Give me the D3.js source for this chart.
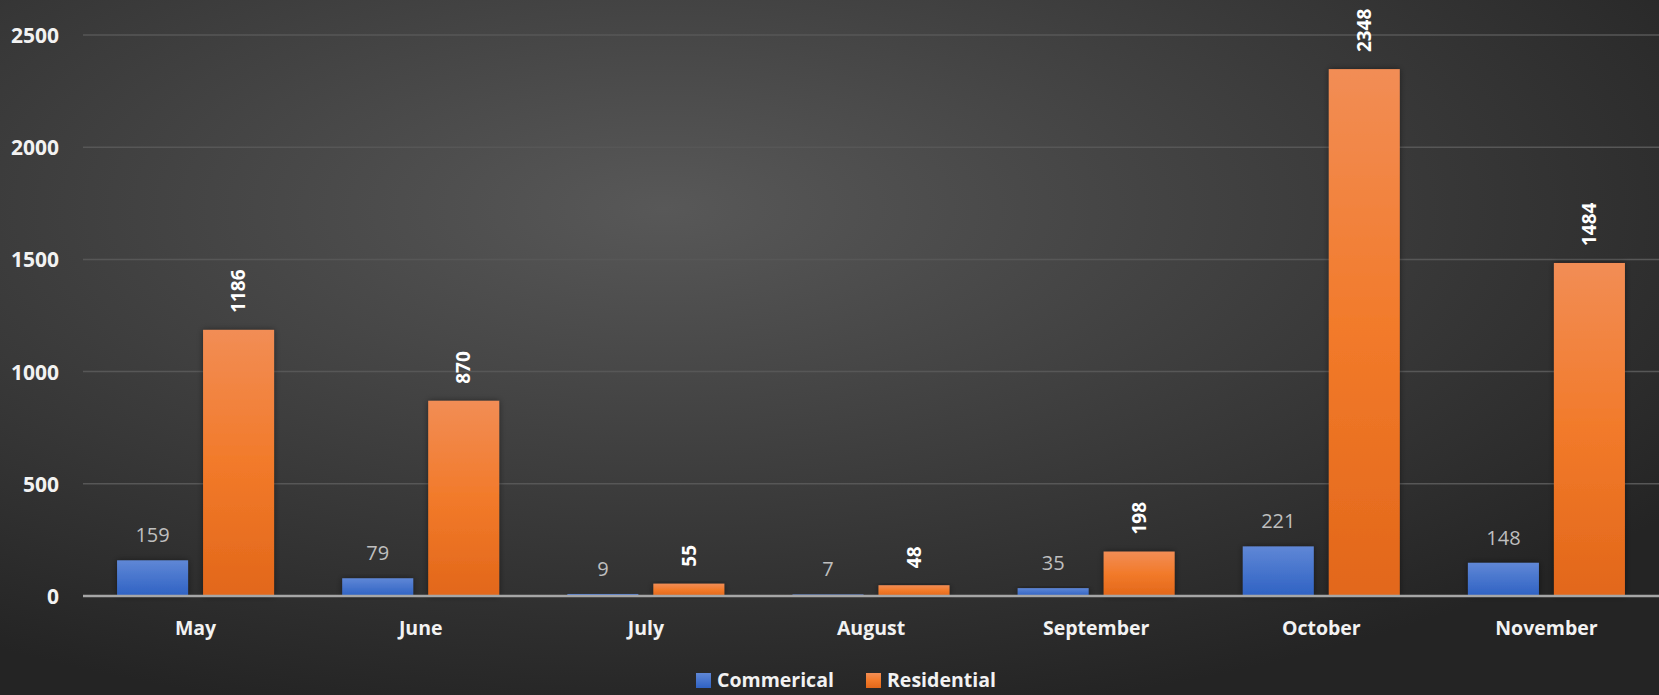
<!doctype html>
<html>
<head>
<meta charset="UTF-8">
<title>Commerical vs Residential</title>
<script src="https://d3js.org/d3.v7.min.js"></script>
<style>
  html, body { margin: 0; padding: 0; background: #2a2a2a; }
  svg { display: block; }
  text { font-family: "Open Sans", "Noto Sans", sans-serif; }
</style>
</head>
<body>
<svg id="chart" width="1659" height="695"></svg>
<script>
// data
var months = ["May", "June", "July", "August", "September", "October", "November"];
var commerical = [159, 79, 9, 7, 35, 221, 148];
var residential = [1186, 870, 55, 48, 198, 2348, 1484];
var yTicks = [0, 500, 1000, 1500, 2000, 2500];
var seriesNames = ["Commerical", "Residential"];

var W = 1659, H = 695;
var m = {left: 83, right: 0, top: 35, bottom: 99};

var svg = d3.select("#chart");
var defs = svg.append("defs");

// background
var bg = defs.append("radialGradient").attr("id", "bg")
  .attr("cx", "40%").attr("cy", "30%").attr("r", "75%");
bg.append("stop").attr("offset", "0%").attr("stop-color", "#585858");
bg.append("stop").attr("offset", "100%").attr("stop-color", "#242424");
svg.append("rect").attr("width", W).attr("height", H).attr("fill", "url(#bg)");

// bar gradients
var gBlue = defs.append("linearGradient").attr("id", "gBlue")
  .attr("x1", 0).attr("y1", 0).attr("x2", 0).attr("y2", 1);
gBlue.append("stop").attr("offset", "0%").attr("stop-color", "#5f87d6");
gBlue.append("stop").attr("offset", "100%").attr("stop-color", "#2f62c3");
var gOrange = defs.append("linearGradient").attr("id", "gOrange")
  .attr("x1", 0).attr("y1", 0).attr("x2", 0).attr("y2", 1);
gOrange.append("stop").attr("offset", "0%").attr("stop-color", "#f28d55");
gOrange.append("stop").attr("offset", "50%").attr("stop-color", "#f27a2a");
gOrange.append("stop").attr("offset", "100%").attr("stop-color", "#e2671a");

var shadow = defs.append("filter").attr("id", "shadow")
  .attr("x", "-20%").attr("y", "-20%").attr("width", "140%").attr("height", "140%");
shadow.append("feDropShadow").attr("dx", 0).attr("dy", 0).attr("stdDeviation", 3)
  .attr("flood-color", "#000").attr("flood-opacity", 0.45);

var x = d3.scaleBand().domain(months).range([m.left, W - m.right]).paddingInner(0).paddingOuter(0);
var y = d3.scaleLinear().domain([0, 2500]).range([H - m.bottom, m.top]);

var barW = 71, gap = 15;

// gridlines
svg.append("g").selectAll("line").data(yTicks.slice(1)).enter().append("line")
  .attr("x1", m.left).attr("x2", W - m.right)
  .attr("y1", function (d) { return y(d); }).attr("y2", function (d) { return y(d); })
  .attr("stroke", "#575757").attr("stroke-width", 1.5);

// y axis labels
var yAxis = d3.axisLeft(y).tickValues(yTicks).tickFormat(d3.format("d")).tickSize(0).tickPadding(0);
var ya = svg.append("g").attr("transform", "translate(59,0)").call(yAxis);
ya.select(".domain").remove();
ya.selectAll("text").attr("fill", "#f2f2f2").attr("font-size", 21).attr("font-weight", "bold")
  .attr("font-family", "'Open Sans', sans-serif").attr("dy", "0.36em");

// bars
var data = months.map(function (mo, i) { return {m: mo, c: commerical[i], r: residential[i]}; });
var groups = svg.append("g").selectAll("g").data(data).enter().append("g")
  .attr("transform", function (d) { return "translate(" + (x(d.m) + x.bandwidth() / 2) + ",0)"; });

groups.append("rect")
  .attr("x", -gap / 2 - barW).attr("width", barW)
  .attr("y", function (d) { return y(d.c); })
  .attr("height", function (d) { return y(0) - y(d.c); })
  .attr("fill", "url(#gBlue)").attr("filter", "url(#shadow)");

groups.append("rect")
  .attr("x", gap / 2).attr("width", barW)
  .attr("y", function (d) { return y(d.r); })
  .attr("height", function (d) { return y(0) - y(d.r); })
  .attr("fill", "url(#gOrange)").attr("filter", "url(#shadow)");

// zero line
svg.append("line").attr("x1", m.left).attr("x2", W - m.right)
  .attr("y1", y(0)).attr("y2", y(0))
  .attr("stroke", "#a6a6a6").attr("stroke-width", 2.5);

// value labels
groups.append("text")
  .attr("x", -gap / 2 - barW / 2)
  .attr("y", function (d) { return y(d.c) - 18; })
  .attr("text-anchor", "middle").attr("fill", "#bfbfbf").attr("font-size", 20)
  .text(function (d) { return d.c; });

groups.append("text")
  .attr("transform", function (d) { return "translate(" + (gap / 2 + barW / 2) + "," + (y(d.r) - 17) + ") rotate(-90)"; })
  .attr("dy", "0.35em")
  .attr("text-anchor", "start").attr("fill", "#ffffff").attr("font-size", 19).attr("font-weight", "bold")
  .text(function (d) { return d.r; });

// x axis labels
var xAxis = d3.axisBottom(x).tickSize(0).tickPadding(0);
var xa = svg.append("g").attr("transform", "translate(0," + 635 + ")").call(xAxis);
xa.select(".domain").remove();
xa.selectAll("text").attr("fill", "#f2f2f2").attr("font-size", 19.5).attr("font-weight", "bold")
  .attr("font-family", "'Open Sans', sans-serif").attr("dy", 0);

// legend
var legend = svg.append("g").attr("transform", "translate(696,673)");
var lx = [0, 170];
var lfill = ["url(#gBlue)", "url(#gOrange)"];
seriesNames.forEach(function (s, i) {
  legend.append("rect").attr("x", lx[i]).attr("y", 0).attr("width", 15).attr("height", 15)
    .attr("fill", lfill[i]);
  legend.append("text").attr("x", lx[i] + 21).attr("y", 14)
    .attr("fill", "#f2f2f2").attr("font-size", 19.5).attr("font-weight", "bold").text(s);
});
</script>
</body>
</html>
